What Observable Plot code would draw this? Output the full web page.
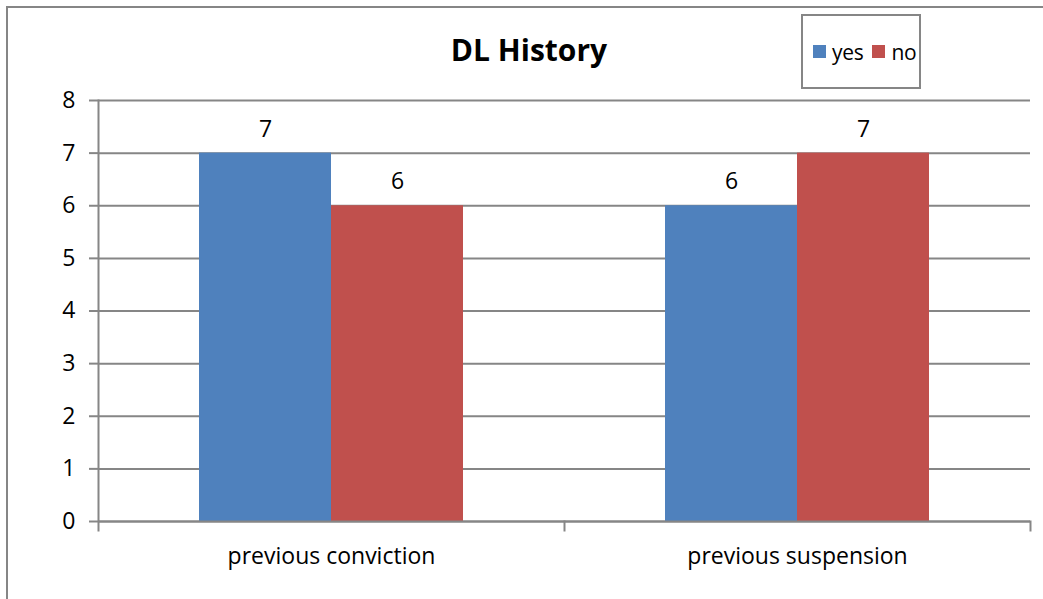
<!DOCTYPE html>
<html>
<head>
<meta charset="utf-8">
<script src="https://cdn.jsdelivr.net/npm/d3@7"></script>
<script src="https://cdn.jsdelivr.net/npm/@observablehq/plot@0.6"></script>
<style>
  html, body { margin: 0; padding: 0; background: #fff; }
  #wrap { position: relative; width: 1043px; height: 599px; overflow: hidden; font-family: "Open Sans", sans-serif; }
  #border { position: absolute; left: 6px; top: 6px; width: 1100px; height: 700px; border-left: 2px solid #868686; border-top: 2px solid #868686; box-sizing: border-box; }
  #title { position: absolute; left: 0; width: 1058px; top: 28px; text-align: center; font-weight: bold; font-size: 30px; line-height: 44px; color: #000; }
  #legend { position: absolute; left: 801px; top: 14px; width: 120px; height: 75px; border: 2px solid #868686; box-sizing: border-box; display: flex; align-items: center; padding-left: 10px; font-size: 21px; color: #000; white-space: nowrap; overflow: hidden; }
  .sw { display: inline-block; width: 13px; height: 13px; margin-right: 6px; flex: none; }
  .item { display: flex; align-items: center; margin-right: 9px; letter-spacing: -0.3px; }
  #chart { position: absolute; left: 0; top: 0; }
</style>
</head>
<body>
<div id="wrap">
  <div id="border"></div>
  <div id="chart"></div>
  <div id="title">DL History</div>
  <div id="legend"></div>
</div>
<script>
const categories = ["previous conviction", "previous suspension"];
const series = ["yes", "no"];
const yesValues = [7, 6];
const noValues = [6, 7];
const yTicks = [0, 1, 2, 3, 4, 5, 6, 7, 8];
const colors = ["#4F81BD", "#C0504D"];

const rows = [];
categories.forEach((c, i) => {
  rows.push({category: c, series: "yes", value: yesValues[i]});
  rows.push({category: c, series: "no", value: noValues[i]});
});

const gridColor = "#868686";
const plot = Plot.plot({
  width: 1043,
  height: 599,
  marginLeft: 97,
  marginRight: 13,
  marginTop: 100,
  marginBottom: 78,
  style: {fontFamily: "'Open Sans', sans-serif", fontSize: "23px", color: "#000", background: "transparent"},
  fx: {domain: categories, padding: 0, label: null, axis: null},
  x: {domain: series, paddingInner: 0, paddingOuter: 0.76, axis: null},
  y: {domain: [0, 8], ticks: yTicks, label: null, axis: null},
  color: {domain: series, range: colors},
  marks: [
    Plot.gridY(yTicks, {stroke: gridColor, strokeOpacity: 1, strokeWidth: 2}),
    Plot.barY(rows, {fx: "category", x: "series", y: "value", fill: "series"}),
    Plot.text(rows, {fx: "category", x: "series", y: "value", text: d => String(d.value), dy: -24, fontSize: 23, fill: "#000"}),
    Plot.axisY(yTicks, {tickSize: 9, tickPadding: 14, tickFormat: "d", stroke: gridColor, strokeWidth: 2, fontSize: 23, fill: "#000", label: null}),
    Plot.axisFx({anchor: "bottom", tickSize: 0, tickPadding: 26, fontSize: 23, fill: "#000", label: null}),
    Plot.frame({anchor: "left", fx: [categories[0]], stroke: gridColor, strokeWidth: 2, insetBottom: -9}),
    Plot.frame({anchor: "right", stroke: gridColor, strokeWidth: 2, insetTop: 421, insetBottom: -9}),
    Plot.ruleY([0], {stroke: gridColor, strokeWidth: 2})
  ]
});
document.getElementById("chart").appendChild(plot);

const legend = document.getElementById("legend");
series.forEach((s, i) => {
  const item = document.createElement("div");
  item.className = "item";
  const sw = document.createElement("span");
  sw.className = "sw";
  sw.style.background = colors[i];
  item.appendChild(sw);
  item.appendChild(document.createTextNode(s));
  legend.appendChild(item);
});
</script>
</body>
</html>
